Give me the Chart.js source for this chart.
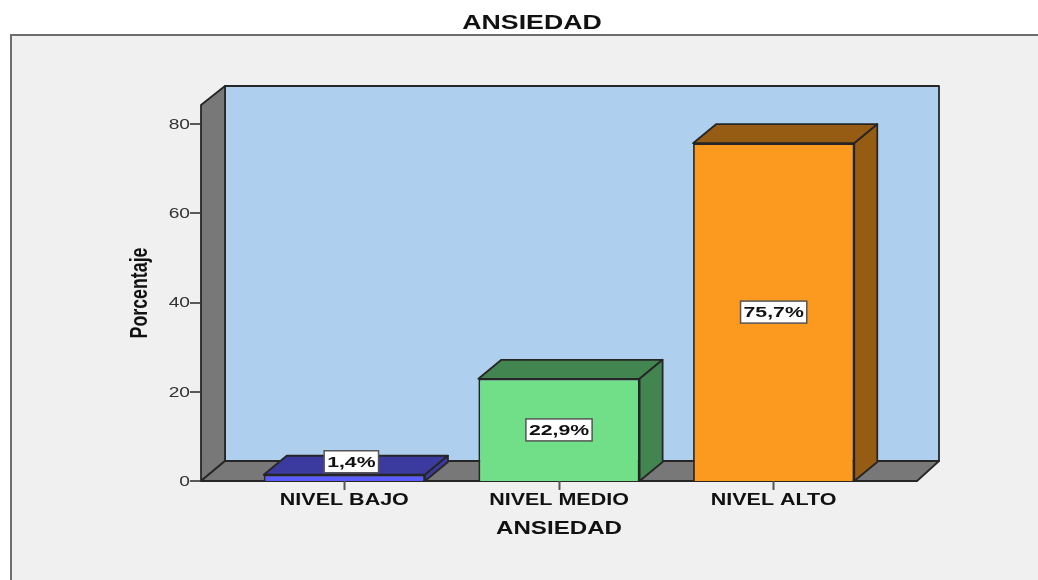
<!DOCTYPE html>
<html>
<head>
<meta charset="utf-8">
<style>html,body{margin:0;padding:0;background:#fff}canvas{display:block}</style>
<script src="https://cdn.jsdelivr.net/npm/chart.js@4"></script>
</head>
<body>
<div style="width:1038px;height:580px"><canvas id="c" width="1038" height="580"></canvas></div>
<script>
const categories = ['NIVEL BAJO', 'NIVEL MEDIO', 'NIVEL ALTO'];
const percentages = [1.4, 22.9, 75.7];
const tickValues = [0, 20, 40, 60, 80];
const frontColors = ['#5A5CFF', '#70DF87', '#FB9A1F'];
const shadeColors = ['#3A3A9F', '#438551', '#975C13'];
const chartTitle = 'ANSIEDAD';
const xTitle = 'ANSIEDAD';
const yTitle = 'Porcentaje';

const FONT = '"Liberation Sans", Arial, sans-serif';
const STRETCH = 1.37, DX = 23, DY = 19, WALL_X = 24, WALL_Y = 20, SIDE = 36;

const canvas = document.getElementById('c');
const ctx0 = canvas.getContext('2d');
// The reference picture is stretched horizontally: text is widened the same way.
const baseFill = ctx0.fillText.bind(ctx0);
ctx0.fillText = function (t, x, y) {
  const m = ctx0.getTransform();
  ctx0.save();
  ctx0.translate(x, y);
  if (Math.abs(m.b) > 0.5) ctx0.scale(1, STRETCH); else ctx0.scale(STRETCH, 1);
  baseFill(t, 0, 0);
  ctx0.restore();
};

function poly(ctx, pts, fill, stroke, lw) {
  ctx.beginPath();
  pts.forEach((p, i) => i ? ctx.lineTo(p[0], p[1]) : ctx.moveTo(p[0], p[1]));
  ctx.closePath();
  if (fill) { ctx.fillStyle = fill; ctx.fill(); }
  if (stroke) { ctx.strokeStyle = stroke; ctx.lineWidth = lw || 1.8; ctx.lineJoin = 'round'; ctx.stroke(); }
}

const scene = {
  id: 'scene',
  afterLayout(chart) {
    chart.titleBlock.left = 26;
    chart.titleBlock.right = 1038;
  },
  beforeDraw(chart) {
    const c = chart.ctx, a = chart.chartArea, y = chart.scales.y;
    c.save();
    c.fillStyle = '#fff'; c.fillRect(0, 0, 1038, 580);
    c.fillStyle = '#F0F0F0'; c.fillRect(11, 35, 1027, 545);
    c.strokeStyle = '#6E6E6E'; c.lineWidth = 2;
    c.beginPath(); c.moveTo(11, 580); c.lineTo(11, 35); c.lineTo(1038, 35); c.stroke();
    const L = a.left - SIDE, R = a.right + SIDE, T = a.top, B = y.getPixelForValue(0);
    const K = '#262626';
    poly(c, [[L + WALL_X, T - WALL_Y + 1], [R + WALL_X - 2, T - WALL_Y + 1], [R + WALL_X - 2, B - WALL_Y], [L + WALL_X, B - WALL_Y]], '#AECFEE', K);
    poly(c, [[L, T], [L + WALL_X, T - WALL_Y + 1], [L + WALL_X, B - WALL_Y], [L, B]], '#787878', K);
    poly(c, [[L, B], [L + WALL_X, B - WALL_Y], [R + WALL_X - 2, B - WALL_Y], [R, B]], '#787878', K);
    c.strokeStyle = '#333'; c.lineWidth = 1.6;
    tickValues.forEach(v => {
      const p = Math.round(y.getPixelForValue(v));
      c.beginPath(); c.moveTo(L, p); c.lineTo(L - 11, p); c.stroke();
    });
    c.restore();
  },
  beforeDatasetsDraw(chart) {
    const c = chart.ctx, bars = chart.getDatasetMeta(0).data;
    c.save();
    bars.forEach((b, i) => {
      const l = b.x - b.width / 2, r = b.x + b.width / 2;
      poly(c, [[l, b.y], [l + DX, b.y - DY], [r + DX, b.y - DY], [r, b.y]], shadeColors[i], '#262626');
      poly(c, [[r, b.y], [r + DX, b.y - DY], [r + DX, b.base - DY], [r, b.base]], shadeColors[i], '#262626');
    });
    c.restore();
  },
  afterDatasetsDraw(chart) {
    const c = chart.ctx, bars = chart.getDatasetMeta(0).data;
    c.save();
    c.font = 'bold 15.5px ' + FONT;
    c.textAlign = 'center';
    c.textBaseline = 'middle';
    bars.forEach((b, i) => {
      const text = percentages[i].toFixed(1).replace('.', ',') + '%';
      const small = b.base - b.y < 20;
      const cx = small ? b.x + 7 : b.x;
      const cy = small ? b.y - 13 : (b.y + b.base) / 2;
      const w = c.measureText(text).width * STRETCH + 6, h = 22;
      c.fillStyle = '#fff';
      c.strokeStyle = '#555';
      c.lineWidth = 1.5;
      c.fillRect(cx - w / 2, cy - h / 2, w, h);
      c.strokeRect(cx - w / 2, cy - h / 2, w, h);
      c.fillStyle = '#111';
      c.fillText(text, cx, cy + 1);
    });
    c.restore();
  }
};

new Chart(ctx0, {
  type: 'bar',
  data: {
    labels: categories,
    datasets: [{
      data: percentages,
      backgroundColor: frontColors,
      borderColor: '#262626',
      borderWidth: 1.8,
      categoryPercentage: 1,
      barPercentage: 0.751
    }]
  },
  plugins: [scene],
  options: {
    responsive: false,
    animation: false,
    layout: { padding: { left: 0, right: 157, top: 0, bottom: 0 } },
    plugins: {
      legend: { display: false },
      tooltip: { enabled: false },
      title: {
        display: true,
        text: chartTitle,
        color: '#111',
        font: { family: FONT, size: 19.5, weight: 'bold' },
        padding: { top: 11.5, bottom: 70.1 }
      }
    },
    scales: {
      x: {
        afterFit(s) { s.height = 99; },
        border: { display: false },
        grid: { display: true, offset: false, drawOnChartArea: false, tickLength: 9, tickColor: '#555', tickWidth: 2 },
        ticks: { color: '#111', padding: 1, maxRotation: 0, font: { family: FONT, size: 15.7, weight: 'bold' } },
        title: { display: true, text: xTitle, color: '#111', padding: { top: 7, bottom: 40 }, font: { family: FONT, size: 17.6, weight: 'bold' } }
      },
      y: {
        min: 0,
        max: 84.26,
        afterFit(s) { s.width = 237; },
        afterBuildTicks(s) { s.ticks = tickValues.map(value => ({ value })); },
        border: { display: false },
        grid: { display: false, drawTicks: false },
        ticks: { color: '#333', padding: 47, labelOffset: 1, font: { family: FONT, size: 14 } },
        title: { display: true, text: yTitle, color: '#111', padding: { top: 130, bottom: 0 }, font: { family: FONT, size: 17.8, weight: 'bold' } }
      }
    }
  }
});
</script>
</body>
</html>
